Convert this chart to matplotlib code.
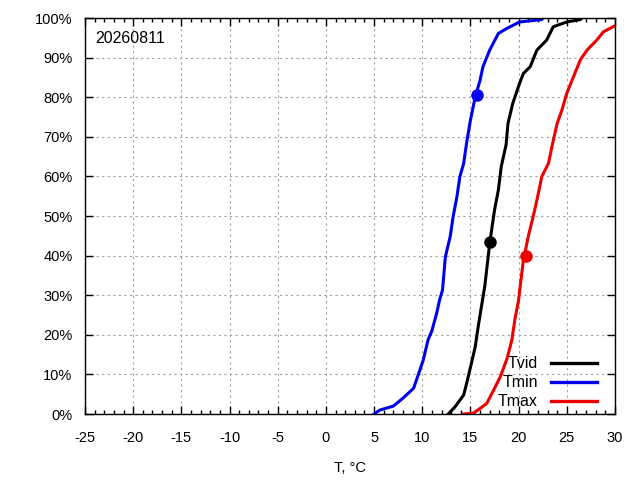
import numpy as np
import matplotlib
matplotlib.use("Agg")
from matplotlib import pyplot as plt
from matplotlib.ticker import MultipleLocator, FuncFormatter

plt.rcParams['font.family'] = ['Liberation Sans', 'DejaVu Sans']
plt.rcParams['axes.unicode_minus'] = False

title_text = '20260811'

# Tmin cumulative curve (T, percent)
tmin_t = [5.0, 5.6, 7.0, 8.0, 9.1, 9.6, 10.1, 10.6, 11.0, 11.5, 11.8, 12.1, 12.4, 12.9,
          13.2, 13.6, 13.9, 14.3, 14.6, 15.0, 15.5, 16.0, 16.3, 17.0, 17.9, 18.8, 20.1, 22.4, 22.5]
tmin_p = [0, 1, 2, 4, 6.5, 10, 13.6, 18.7, 21, 25.5, 28.8, 31.3, 39.7, 44.8,
          49.8, 54.9, 59.9, 63.3, 68.4, 74.2, 80.1, 84.3, 87.7, 91.9, 96.1, 97.4, 99, 99.6, 100]

# Tvid cumulative curve
tvid_t = [12.7, 13.4, 14.3, 14.6, 15.1, 15.5, 15.8, 16.2, 16.5, 17.0, 17.5, 17.9, 18.2,
          18.7, 18.9, 19.4, 20.1, 20.5, 21.2, 21.9, 22.9, 23.6, 25.0, 26.4, 26.6]
tvid_p = [0, 1.8, 4.8, 7.7, 12.8, 17, 22, 28, 32.5, 43.1, 51.5, 56.6, 62.5,
          68, 73.4, 78.5, 83.5, 86, 87.7, 91.9, 94.4, 97.8, 99, 99.6, 100]

# Tmax cumulative curve
tmax_t = [14.3, 15.3, 16.0, 16.7, 17.4, 18.1, 18.8, 19.3, 19.6, 20.0, 20.2, 20.5, 21.0,
          21.5, 21.9, 22.4, 23.1, 23.5, 24.0, 24.5, 25.0, 25.7, 26.4, 27.1, 28.1, 28.8, 29.8, 30.5]
tmax_p = [0, 0.2, 1.4, 2.7, 6, 9.4, 14, 18.7, 23.7, 28.8, 33, 38.9, 44.8,
          49.8, 54, 59.9, 63.3, 68, 73.4, 76.8, 81, 85.2, 89.4, 91.9, 94.4, 96.5, 97.8, 98.6]

# highlighted points (T, percent)
mark_tmin = (15.7, 80.5)
mark_tvid = (17.0, 43.5)
mark_tmax = (20.8, 40.0)

fig = plt.figure(figsize=(6.4, 4.8), dpi=100)
ax = fig.add_axes([0.1328, 0.1375, 0.8281, 0.825])

ax.plot(tvid_t, tvid_p, color='black', lw=2.2, label='Tvid', zorder=3)
ax.plot(tmin_t, tmin_p, color='#0000ee', lw=2.2, label='Tmin', zorder=3)
ax.plot(tmax_t, tmax_p, color='#ee0000', lw=2.2, label='Tmax', zorder=3)

ax.plot(*mark_tvid, 'o', color='black', ms=8, zorder=4)
ax.plot(*mark_tmin, 'o', color='#0000ee', ms=8, zorder=4)
ax.plot(*mark_tmax, 'o', color='#ee0000', ms=8, zorder=4)

ax.set_xlim(-25, 30)
ax.set_ylim(0, 100)
ax.xaxis.set_major_locator(MultipleLocator(5))
ax.xaxis.set_minor_locator(MultipleLocator(1))
ax.yaxis.set_major_locator(MultipleLocator(10))
ax.yaxis.set_major_formatter(FuncFormatter(lambda v, pos: '%d%%' % v))

ax.tick_params(which='both', direction='in', top=True, right=True, labelsize=10.5, colors='black')
ax.tick_params(which='major', length=6, width=1)
ax.tick_params(which='minor', length=3, width=1)
ax.tick_params(axis='x', which='major', pad=12)
ax.tick_params(axis='y', which='major', pad=9)

ax.grid(True, which='major', color='#a0a0a0', linestyle=(0, (2, 3)), lw=0.8)
for s in ax.spines.values():
    s.set_linewidth(1)
    s.set_zorder(5)

ax.set_xlabel('T, °C', fontsize=10.5, labelpad=12)
ax.text(0.02, 0.968, title_text, transform=ax.transAxes, fontsize=11.5, va='top', ha='left')

leg = ax.legend(loc='lower right', frameon=False, markerfirst=False, fontsize=11.5,
                handlelength=2.9, handletextpad=0.8, labelspacing=0.25,
                borderpad=0, borderaxespad=0, bbox_to_anchor=(0.966, 0.012))
for line in leg.get_lines():
    line.set_linewidth(2.4)
for t in leg.get_texts():
    t.set_ha('right')

fig.savefig('out.png', dpi=100)
